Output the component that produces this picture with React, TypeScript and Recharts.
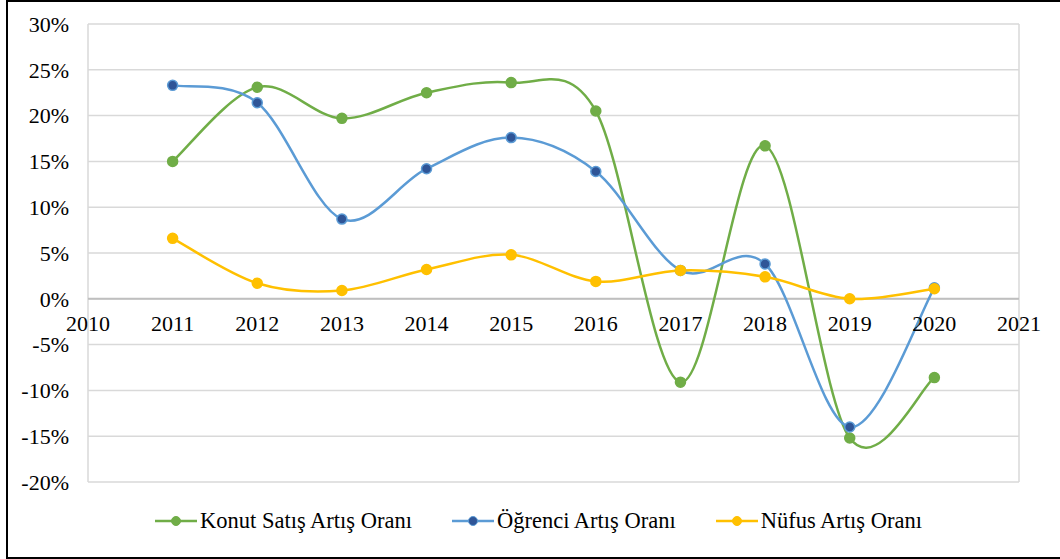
import React from 'react';
import {
  LineChart,
  Line,
  XAxis,
  YAxis,
  CartesianGrid,
  Legend,
  ReferenceLine,
  ReferenceDot,
} from 'recharts';

const years = [2011, 2012, 2013, 2014, 2015, 2016, 2017, 2018, 2019, 2020];
const konutSatis = [15.0, 23.1, 19.7, 22.5, 23.6, 20.5, -9.1, 16.7, -15.2, -8.6];
const ogrenci = [23.3, 21.4, 8.7, 14.2, 17.6, 13.9, 3.1, 3.8, -14.0, 1.2];
const nufus = [6.6, 1.7, 0.9, 3.2, 4.8, 1.9, 3.1, 2.4, 0.0, 1.1];
const xTicks = [2010, 2011, 2012, 2013, 2014, 2015, 2016, 2017, 2018, 2019, 2020, 2021];
const yTicks = [-20, -15, -10, -5, 0, 5, 10, 15, 20, 25, 30];

const FONT = "'Liberation Serif', serif";

const series = [
  { key: 'konut', name: 'Konut Satış Artış Oranı', color: '#70AD47', dotFill: '#70AD47' },
  { key: 'ogrenci', name: 'Öğrenci Artış Oranı', color: '#5B9BD5', dotFill: '#2F5597' },
  { key: 'nufus', name: 'Nüfus Artış Oranı', color: '#FFC000', dotFill: '#FFC000' },
];

const data = years.map((year, i) => ({
  year,
  konut: konutSatis[i],
  ogrenci: ogrenci[i],
  nufus: nufus[i],
}));

// Excel-style smoothed line (Catmull-Rom as cubic bezier)
const excelCurve = (context: any) => {
  let xs: number[] = [];
  let ys: number[] = [];
  return {
    areaStart() {},
    areaEnd() {},
    lineStart() {
      xs = [];
      ys = [];
    },
    point(x: number, y: number) {
      xs.push(+x);
      ys.push(+y);
    },
    lineEnd() {
      const n = xs.length;
      if (!n) return;
      context.moveTo(xs[0], ys[0]);
      for (let i = 0; i < n - 1; i++) {
        const p = Math.max(i - 1, 0);
        const q = Math.min(i + 2, n - 1);
        const c1x = xs[i] + (xs[i + 1] - xs[p]) / 6;
        const c1y = ys[i] + (ys[i + 1] - ys[p]) / 6;
        const c2x = xs[i + 1] - (xs[q] - xs[i]) / 6;
        const c2y = ys[i + 1] - (ys[q] - ys[i]) / 6;
        context.bezierCurveTo(c1x, c1y, c2x, c2y, xs[i + 1], ys[i + 1]);
      }
    },
  };
};

const renderLegend = () => (
  <div
    style={{
      display: 'flex',
      justifyContent: 'center',
      alignItems: 'center',
      height: 30,
      paddingLeft: 90,
      fontFamily: FONT,
      fontSize: 22.5,
      color: '#000',
    }}
  >
    {series.map((s) => (
      <div key={s.key} style={{ display: 'flex', alignItems: 'center', marginRight: 40 }}>
        <svg width={42} height={12} style={{ marginRight: 3 }}>
          <line x1={0} y1={6} x2={42} y2={6} stroke={s.color} strokeWidth={2.5} />
          <circle cx={21} cy={6} r={4.5} fill={s.dotFill} stroke={s.color} strokeWidth={1} />
        </svg>
        <span style={{ fontFamily: FONT }}>{s.name}</span>
      </div>
    ))}
  </div>
);

export default function App() {
  return (
    <div
      style={{
        position: 'absolute',
        left: 6,
        top: 0,
        width: 1060,
        height: 559,
        border: '2px solid #000',
        boxSizing: 'border-box',
        background: '#fff',
        fontFamily: FONT,
      }}
    >
      <LineChart
        width={1050}
        height={555}
        data={data}
        margin={{ top: 22, right: 39, left: 0, bottom: 21 }}
        style={{ fontFamily: FONT }}
      >
        <CartesianGrid stroke="#d9d9d9" strokeWidth={1.5} />
        <XAxis
          dataKey="year"
          type="number"
          domain={[2010, 2021]}
          ticks={xTicks}
          tick={false}
          tickLine={false}
          axisLine={false}
          height={24}
        />
        <YAxis
          type="number"
          domain={[-20, 30]}
          ticks={yTicks}
          tickFormatter={(v) => `${v}%`}
          tick={{ fill: '#000', fontSize: 22, fontFamily: FONT }}
          tickLine={false}
          axisLine={false}
          tickSize={0}
          tickMargin={19}
          width={80}
        />
        <ReferenceLine y={0} stroke="#bfbfbf" strokeWidth={2} />
        {xTicks.map((t) => (
          <ReferenceDot
            key={t}
            x={t}
            y={0}
            r={0}
            fill="none"
            stroke="none"
            label={{
              value: String(t),
              position: 'bottom',
              offset: 17,
              fill: '#000',
              fontSize: 22,
              fontFamily: FONT,
            }}
          />
        ))}
        {series.map((s) => (
          <Line
            key={s.key}
            dataKey={s.key}
            name={s.name}
            type={excelCurve as any}
            stroke={s.color}
            strokeWidth={2.5}
            dot={{ r: 5, fill: s.dotFill, stroke: s.color, strokeWidth: 1.5 }}
            activeDot={false}
            isAnimationActive={false}
          />
        ))}
        <Legend verticalAlign="bottom" content={renderLegend} />
      </LineChart>
    </div>
  );
}
